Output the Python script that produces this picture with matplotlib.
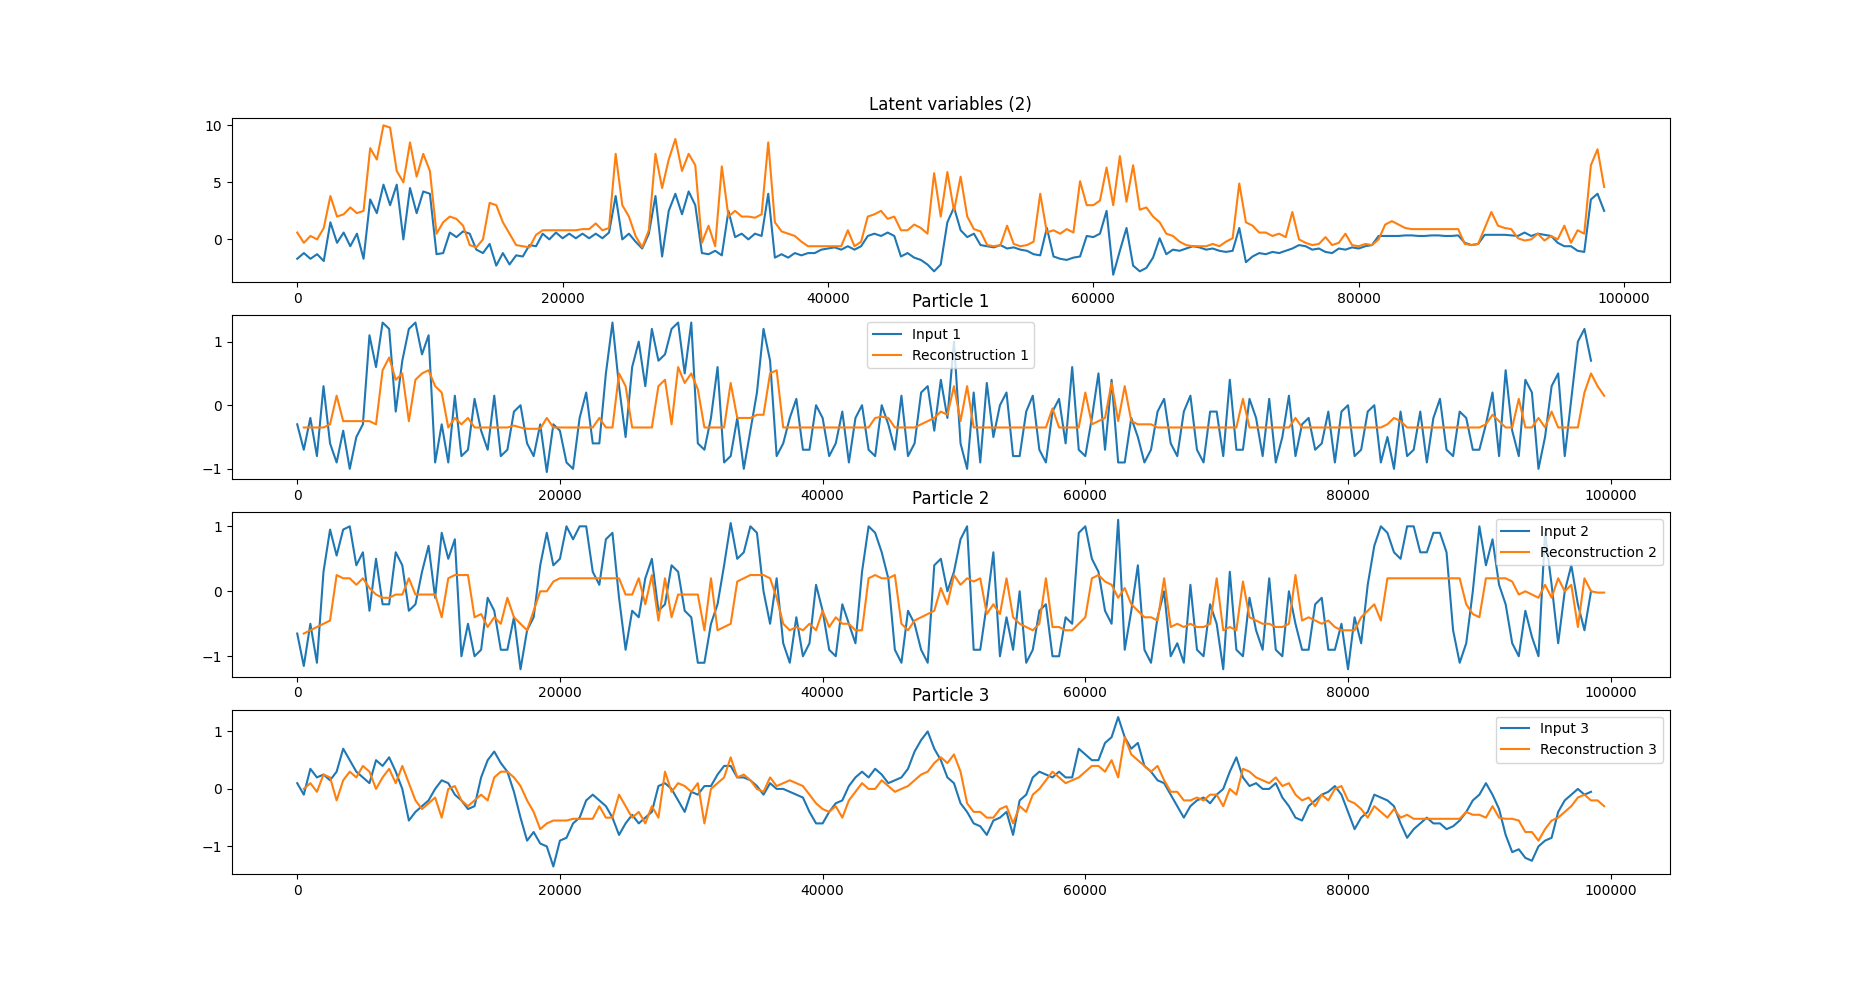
import numpy as np
import matplotlib.pyplot as plt

nan = np.nan
step = 500  # two readings per 1000 samples

# latent variables
latent_1 = [
    -1.7, -1.2, -1.7, -1.3, -1.9, 1.5, -0.3, 0.6, -0.6, 0.5, -1.7, 3.5, 2.3, 4.8, 3.0, 4.8, 0.0, 4.5, 2.3, 4.2,
    4.0, -1.3, -1.2, 0.6, 0.2, 0.7, 0.5, -0.9, -1.2, -0.4, -2.3, -1.2, -2.2, -1.4, -1.5, -0.5, -0.6, 0.5, 0.0, 0.6,
    0.1, 0.5, 0.1, 0.5, 0.1, 0.5, 0.1, 0.6, 3.8, 0.0, 0.5, -0.2, -0.8, 0.5, 3.8, -1.5, 2.5, 4.0, 2.2, 4.2,
    3.0, -1.2, -1.3, -1.0, -1.4, 2.5, 0.2, 0.5, 0.0, 0.5, 0.3, 4.0, -1.6, -1.3, -1.6, -1.2, -1.4, -1.2, -1.2, -0.9,
    -0.8, -0.7, -0.9, -0.6, -0.9, -0.6, 0.3, 0.5, 0.3, 0.6, 0.3, -1.5, -1.2, -1.6, -1.8, -2.2, -2.8, -2.2, 1.5, 2.8,
    0.8, 0.2, 0.5, -0.5, -0.6, -0.7, -0.5, -0.8, -0.7, -0.9, -1.0, -1.3, -1.4, 1.0, -1.5, -1.7, -1.8, -1.6, -1.5, 0.3,
    0.2, 0.5, 2.5, -3.1, -1.0, 1.0, -2.3, -2.8, -2.5, -1.6, 0.1, -1.3, -0.9, -1.0, -0.8, -0.6, -0.7, -0.9, -0.8, -1.0,
    -1.1, -1.0, 1.0, -2.0, -1.5, -1.2, -1.3, -1.1, -1.2, -1.0, -0.8, -0.5, -0.6, -0.9, -0.8, -1.1, -1.2, -0.8, -0.9, -0.7,
    -0.8, -0.6, -0.5, 0.3, 0.3, 0.3, 0.3, 0.35, 0.35, 0.3, 0.3, 0.35, 0.35, 0.3, 0.3, 0.35, -0.3, -0.5, -0.4, 0.4,
    0.4, 0.4, 0.4, 0.35, 0.3, 0.6, 0.3, 0.5, 0.4, 0.3, -0.3, -0.6, -0.6, -1.0, -1.1, 3.5, 4.0, 2.5,
]
latent_2 = [
    0.6, -0.3, 0.3, 0.0, 1.0, 3.8, 2.0, 2.2, 2.8, 2.3, 2.5, 8.0, 7.0, 10.0, 9.8, 6.0, 5.0, 8.5, 5.5, 7.5,
    6.0, 0.5, 1.5, 2.0, 1.8, 1.2, -0.5, -0.7, 0.0, 3.2, 3.0, 1.5, 0.5, -0.5, -0.6, -0.7, 0.4, 0.8, 0.8, 0.8,
    0.8, 0.8, 0.8, 0.9, 0.9, 1.4, 0.8, 1.0, 7.5, 3.0, 2.0, 0.3, -0.7, 0.8, 7.5, 4.5, 7.0, 8.8, 6.0, 7.5,
    6.5, -0.3, 1.2, -0.6, 6.4, 2.0, 2.5, 2.0, 2.0, 1.9, 2.2, 8.5, 1.5, 0.7, 0.5, 0.3, -0.2, -0.6, -0.6, -0.6,
    -0.6, -0.6, -0.6, 0.8, -0.6, -0.2, 2.0, 2.2, 2.5, 1.8, 2.0, 0.8, 0.8, 1.3, 1.0, 0.5, 5.8, 2.0, 5.9, 2.5,
    5.5, 2.0, 0.9, 0.7, -0.5, -0.6, -0.5, 1.2, -0.4, -0.6, -0.5, -0.2, 4.0, 0.6, 0.8, 0.5, 0.9, 0.6, 5.1, 3.0,
    3.0, 3.4, 6.3, 3.0, 7.3, 3.3, 6.5, 2.6, 2.8, 2.0, 1.5, 0.5, 0.3, -0.2, -0.5, -0.6, -0.6, -0.6, -0.4, -0.6,
    -0.2, 0.1, 4.9, 1.5, 1.2, 0.6, 0.6, 0.3, 0.5, 0.2, 2.4, 0.0, -0.3, -0.5, -0.4, 0.2, -0.5, -0.3, 0.5, -0.5,
    -0.6, -0.4, -0.5, 0.0, 1.3, 1.6, 1.3, 1.0, 0.9, 0.9, 0.9, 0.9, 0.9, 0.9, 0.9, 0.9, -0.4, -0.5, -0.4, 1.0,
    2.4, 1.2, 1.0, 0.9, 0.1, -0.1, 0.0, 0.5, -0.1, 0.3, 0.0, 1.2, -0.3, 0.8, 0.5, 6.5, 7.9, 4.6,
]

# particle inputs and reconstructions
input_1 = [
    -0.3, -0.7, -0.2, -0.8, 0.3, -0.6, -0.9, -0.4, -1.0, -0.5, -0.3, 1.1, 0.6, 1.3, 1.2, -0.1, 0.7, 1.2, 1.3, 0.8,
    1.1, -0.9, -0.3, -0.9, 0.15, -0.8, -0.7, 0.1, -0.4, -0.7, 0.15, -0.8, -0.7, -0.1, 0.0, -0.6, -0.8, -0.3, -1.05, -0.3,
    -0.4, -0.9, -1.0, -0.2, 0.2, -0.6, -0.6, 0.5, 1.3, 0.3, -0.5, 0.6, 1.0, 0.3, 1.2, 0.7, 0.8, 1.2, 1.3, 0.5,
    1.3, -0.6, -0.7, -0.2, 0.6, -0.9, -0.8, -0.2, -1.0, -0.4, 0.2, 1.2, 0.7, -0.8, -0.6, -0.2, 0.1, -0.7, -0.7, 0.0,
    -0.2, -0.8, -0.6, -0.1, -0.9, -0.2, 0.0, -0.7, -0.8, 0.0, -0.3, -0.7, 0.15, -0.8, -0.6, 0.2, 0.3, -0.4, 0.4, -0.2,
    1.0, -0.6, -1.0, 0.2, -0.9, 0.35, -0.5, 0.0, 0.2, -0.8, -0.8, -0.1, 0.15, -0.7, -0.9, -0.1, 0.1, -0.6, 0.6, -0.7,
    -0.8, -0.2, 0.5, -0.7, 0.4, -0.9, -0.9, -0.2, -0.5, -0.9, -0.7, -0.1, 0.1, -0.6, -0.8, -0.1, 0.15, -0.7, -0.9, -0.1,
    -0.1, -0.8, 0.4, -0.7, -0.7, 0.1, -0.2, -0.8, 0.1, -0.9, -0.5, 0.15, -0.8, -0.3, -0.2, -0.7, -0.6, -0.1, -0.9, -0.1,
    0.0, -0.8, -0.7, -0.1, 0.0, -0.9, -0.5, -1.0, -0.1, -0.8, -0.7, -0.1, -0.9, -0.2, 0.1, -0.7, -0.8, -0.1, -0.2, -0.7,
    -0.7, -0.3, 0.2, -0.8, 0.55, -0.4, -0.8, 0.4, 0.2, -1.0, -0.5, 0.3, 0.5, -0.8, 0.1, 1.0, 1.2, 0.7, nan, nan,
]
recon_1 = [
    nan, -0.35, -0.35, -0.35, -0.35, -0.3, 0.15, -0.25, -0.25, -0.25, -0.25, -0.25, -0.3, 0.55, 0.75, 0.4, 0.5, -0.25, 0.4, 0.5,
    0.55, 0.3, 0.2, -0.35, -0.2, -0.3, -0.2, -0.35, -0.35, -0.35, -0.35, -0.35, -0.35, -0.32, -0.35, -0.37, -0.37, -0.37, -0.2, -0.35,
    -0.35, -0.35, -0.35, -0.35, -0.35, -0.35, -0.2, -0.35, -0.35, 0.5, 0.3, -0.35, -0.35, -0.35, -0.35, 0.3, 0.4, -0.3, 0.6, 0.35,
    0.5, 0.25, -0.35, -0.35, -0.35, -0.35, 0.35, -0.2, -0.2, -0.2, -0.15, -0.15, 0.5, 0.55, -0.35, -0.35, -0.35, -0.35, -0.35, -0.35,
    -0.35, -0.35, -0.35, -0.35, -0.35, -0.35, -0.35, -0.35, -0.2, -0.18, -0.2, -0.35, -0.35, -0.35, -0.35, -0.3, -0.25, -0.2, -0.1, -0.15,
    0.3, -0.25, 0.3, -0.35, -0.35, -0.35, -0.35, -0.35, -0.35, -0.35, -0.35, -0.35, -0.35, -0.35, -0.35, -0.05, -0.35, -0.35, -0.35, -0.35,
    0.2, -0.3, -0.25, -0.2, 0.35, -0.25, 0.3, -0.25, -0.3, -0.3, -0.3, -0.35, -0.35, -0.35, -0.35, -0.35, -0.35, -0.35, -0.35, -0.35,
    -0.35, -0.35, -0.35, -0.35, 0.1, -0.35, -0.35, -0.35, -0.35, -0.35, -0.35, -0.35, -0.2, -0.35, -0.35, -0.35, -0.35, -0.35, -0.35, -0.35,
    -0.35, -0.35, -0.35, -0.35, -0.35, -0.35, -0.3, -0.2, -0.25, -0.35, -0.35, -0.35, -0.35, -0.35, -0.35, -0.35, -0.35, -0.35, -0.35, -0.35,
    -0.35, -0.3, -0.15, -0.25, -0.35, -0.35, 0.1, -0.35, -0.35, -0.2, -0.35, -0.1, -0.35, -0.35, -0.35, -0.35, 0.2, 0.5, 0.3, 0.15,
]
input_2 = [
    -0.65, -1.15, -0.5, -1.1, 0.3, 0.95, 0.55, 0.95, 1.0, 0.4, 0.6, -0.3, 0.5, -0.2, -0.2, 0.6, 0.4, -0.3, -0.2, 0.3,
    0.7, -0.1, 0.9, 0.5, 0.8, -1.0, -0.5, -1.0, -0.9, -0.1, -0.3, -0.9, -0.9, -0.4, -1.2, -0.6, -0.4, 0.4, 0.9, 0.4,
    0.5, 1.0, 0.8, 1.0, 1.0, 0.3, 0.1, 0.8, 0.9, -0.1, -0.9, -0.3, -0.4, 0.2, 0.5, -0.3, -0.2, 0.4, 0.3, -0.3,
    -0.4, -1.1, -1.1, -0.5, -0.2, 0.4, 1.05, 0.5, 0.6, 1.0, 0.9, 0.0, -0.5, 0.2, -0.8, -1.1, -0.4, -1.0, -0.8, 0.1,
    -0.3, -0.9, -1.0, -0.2, -0.5, -0.8, 0.3, 1.0, 0.9, 0.6, 0.2, -0.9, -1.1, -0.3, -0.5, -0.9, -1.1, 0.4, 0.5, 0.0,
    0.3, 0.8, 1.0, -0.9, -0.9, -0.2, 0.6, -1.0, -0.4, -0.9, 0.0, -1.1, -0.9, -0.3, -0.2, -1.0, -1.0, -0.4, -0.5, 0.9,
    1.0, 0.5, 0.3, -0.3, -0.5, 1.1, -0.9, -0.3, 0.4, -0.9, -1.1, -0.4, 0.0, -1.0, -0.8, -1.1, 0.1, -0.9, -1.0, -0.2,
    -0.5, -1.2, 0.3, -0.9, -1.0, -0.1, -0.6, -0.9, 0.2, -0.9, -1.0, 0.0, -0.5, -0.9, -0.9, -0.2, -0.1, -0.9, -0.9, -0.5,
    -1.2, -0.4, -0.8, 0.1, 0.7, 1.0, 0.9, 0.6, 0.5, 1.0, 1.0, 0.6, 0.6, 0.9, 0.9, 0.6, -0.6, -1.1, -0.8, 0.0,
    1.0, 0.4, 0.8, 0.1, -0.2, -0.8, -1.0, -0.3, -0.7, -1.0, 0.9, 0.1, -0.8, 0.0, 0.4, -0.2, -0.6, 0.0, nan, nan,
]
recon_2 = [
    nan, -0.65, -0.6, -0.55, -0.5, -0.45, 0.25, 0.2, 0.2, 0.1, 0.2, 0.05, -0.05, -0.1, -0.1, -0.05, -0.05, 0.2, -0.05, -0.05,
    -0.05, -0.05, -0.4, 0.2, 0.25, 0.25, 0.25, -0.4, -0.35, -0.55, -0.4, -0.5, -0.1, -0.4, -0.5, -0.6, -0.3, 0.0, 0.0, 0.15,
    0.2, 0.2, 0.2, 0.2, 0.2, 0.2, 0.2, 0.2, 0.2, 0.2, -0.05, -0.05, 0.2, -0.2, 0.25, -0.45, 0.2, -0.4, -0.05, -0.05,
    -0.05, -0.05, -0.6, 0.2, -0.6, -0.55, -0.5, 0.15, 0.2, 0.25, 0.25, 0.25, 0.2, -0.1, -0.5, -0.6, -0.55, -0.6, -0.5, -0.6,
    -0.3, -0.55, -0.4, -0.5, -0.5, -0.6, -0.6, 0.2, 0.25, 0.2, 0.2, 0.25, -0.5, -0.6, -0.45, -0.4, -0.35, -0.3, 0.05, -0.2,
    0.25, 0.1, 0.2, 0.15, 0.2, -0.35, -0.2, -0.35, 0.2, -0.4, -0.5, -0.55, -0.6, -0.5, 0.2, -0.55, -0.55, -0.6, -0.6, -0.5,
    -0.4, 0.2, 0.25, 0.15, 0.1, -0.1, 0.05, -0.2, -0.3, -0.4, -0.4, -0.45, 0.2, -0.55, -0.5, -0.55, -0.5, -0.55, -0.55, -0.5,
    0.2, -0.6, -0.55, -0.6, 0.15, -0.4, -0.45, -0.5, -0.5, -0.55, -0.55, -0.5, 0.25, -0.45, -0.4, -0.45, -0.5, -0.45, -0.55, -0.6,
    -0.6, -0.6, -0.4, -0.3, -0.2, -0.45, 0.2, 0.2, 0.2, 0.2, 0.2, 0.2, 0.2, 0.2, 0.2, 0.2, 0.2, 0.2, -0.2, -0.35,
    -0.4, 0.2, 0.2, 0.2, 0.2, 0.15, -0.05, 0.0, -0.05, -0.1, 0.1, -0.1, 0.2, 0.0, 0.1, -0.55, 0.2, 0.0, -0.02, -0.02,
]
input_3 = [
    0.1, -0.1, 0.35, 0.2, 0.25, 0.15, 0.3, 0.7, 0.5, 0.3, 0.2, 0.1, 0.5, 0.4, 0.55, 0.3, 0.0, -0.55, -0.4, -0.3,
    -0.2, 0.0, 0.15, 0.1, -0.1, -0.2, -0.35, -0.3, 0.2, 0.5, 0.65, 0.45, 0.3, -0.05, -0.5, -0.9, -0.75, -0.95, -1.0, -1.35,
    -0.9, -0.85, -0.6, -0.5, -0.2, -0.1, -0.2, -0.3, -0.5, -0.8, -0.6, -0.45, -0.6, -0.5, -0.4, 0.05, 0.1, 0.0, -0.2, -0.4,
    -0.05, -0.1, 0.05, 0.05, 0.25, 0.4, 0.4, 0.2, 0.2, 0.15, 0.05, -0.1, 0.1, 0.0, 0.0, -0.05, -0.1, -0.15, -0.4, -0.6,
    -0.6, -0.4, -0.25, -0.2, 0.05, 0.2, 0.3, 0.2, 0.35, 0.25, 0.1, 0.15, 0.2, 0.35, 0.65, 0.85, 1.0, 0.7, 0.5, 0.2,
    0.1, -0.25, -0.4, -0.6, -0.65, -0.8, -0.55, -0.5, -0.4, -0.8, -0.2, -0.1, 0.2, 0.3, 0.25, 0.2, 0.3, 0.2, 0.2, 0.7,
    0.6, 0.5, 0.5, 0.8, 0.9, 1.25, 0.9, 0.7, 0.8, 0.4, 0.3, 0.15, 0.1, -0.1, -0.3, -0.5, -0.3, -0.2, -0.15, -0.25,
    -0.1, 0.0, 0.3, 0.55, 0.2, 0.05, 0.1, 0.0, 0.0, 0.1, -0.15, -0.3, -0.5, -0.55, -0.3, -0.2, -0.1, -0.05, 0.05, -0.1,
    -0.4, -0.7, -0.5, -0.4, -0.1, -0.15, -0.2, -0.3, -0.6, -0.85, -0.7, -0.6, -0.5, -0.6, -0.6, -0.7, -0.65, -0.55, -0.4, -0.2,
    -0.1, 0.1, -0.1, -0.35, -0.8, -1.1, -1.05, -1.2, -1.25, -1.0, -0.9, -0.85, -0.4, -0.2, -0.1, 0.0, -0.1, -0.05, nan, nan,
]
recon_3 = [
    nan, 0.0, 0.1, -0.05, 0.25, 0.2, -0.2, 0.15, 0.3, 0.2, 0.4, 0.3, 0.0, 0.2, 0.35, 0.1, 0.4, 0.1, -0.2, -0.35,
    -0.25, -0.15, -0.5, 0.0, 0.05, -0.2, -0.3, -0.2, -0.1, -0.2, 0.2, 0.3, 0.3, 0.2, 0.05, -0.2, -0.4, -0.7, -0.6, -0.55,
    -0.55, -0.55, -0.52, -0.52, -0.52, -0.52, -0.3, -0.5, -0.5, -0.1, -0.3, -0.5, -0.4, -0.6, -0.3, -0.5, 0.3, -0.05, 0.1, 0.05,
    -0.05, 0.1, -0.6, 0.0, 0.1, 0.2, 0.55, 0.2, 0.25, 0.15, 0.0, -0.05, 0.2, 0.05, 0.1, 0.15, 0.1, 0.05, -0.1, -0.25,
    -0.35, -0.4, -0.3, -0.5, -0.2, -0.05, 0.1, 0.0, 0.0, 0.15, 0.05, -0.05, 0.0, 0.05, 0.15, 0.25, 0.3, 0.45, 0.55, 0.45,
    0.6, 0.3, -0.25, -0.4, -0.4, -0.5, -0.5, -0.35, -0.3, -0.6, -0.3, -0.4, -0.1, 0.0, 0.15, 0.3, 0.2, 0.1, 0.15, 0.2,
    0.3, 0.4, 0.4, 0.3, 0.5, 0.2, 0.9, 0.6, 0.5, 0.4, 0.3, 0.4, 0.15, -0.05, -0.05, -0.2, -0.2, -0.15, -0.2, -0.1,
    -0.1, -0.3, 0.0, -0.1, 0.35, 0.3, 0.2, 0.15, 0.1, 0.2, 0.05, 0.1, -0.1, -0.2, -0.15, -0.3, -0.1, -0.2, 0.0, 0.05,
    -0.2, -0.25, -0.35, -0.5, -0.3, -0.4, -0.5, -0.35, -0.5, -0.45, -0.52, -0.52, -0.52, -0.52, -0.52, -0.52, -0.52, -0.52, -0.4, -0.45,
    -0.45, -0.5, -0.3, -0.5, -0.52, -0.52, -0.55, -0.75, -0.75, -0.9, -0.7, -0.55, -0.5, -0.4, -0.3, -0.15, -0.1, -0.2, -0.2, -0.3,
]

particles = [(input_1, recon_1), (input_2, recon_2), (input_3, recon_3)]
legend_locs = ['upper center', 'upper right', 'upper right']


def steps(values):
    return np.arange(len(values)) * step


fig, axes = plt.subplots(4, 1, figsize=(18.55, 9.82), dpi=100)

axes[0].plot(steps(latent_1), latent_1)
axes[0].plot(steps(latent_2), latent_2)
axes[0].set_title('Latent variables (2)')

for i, (inp, rec) in enumerate(particles):
    ax = axes[i + 1]
    ax.plot(steps(inp), inp, label='Input %d' % (i + 1))
    ax.plot(steps(rec), rec, label='Reconstruction %d' % (i + 1))
    ax.set_title('Particle %d' % (i + 1))
    ax.legend(loc=legend_locs[i])

fig.savefig('out.png')
